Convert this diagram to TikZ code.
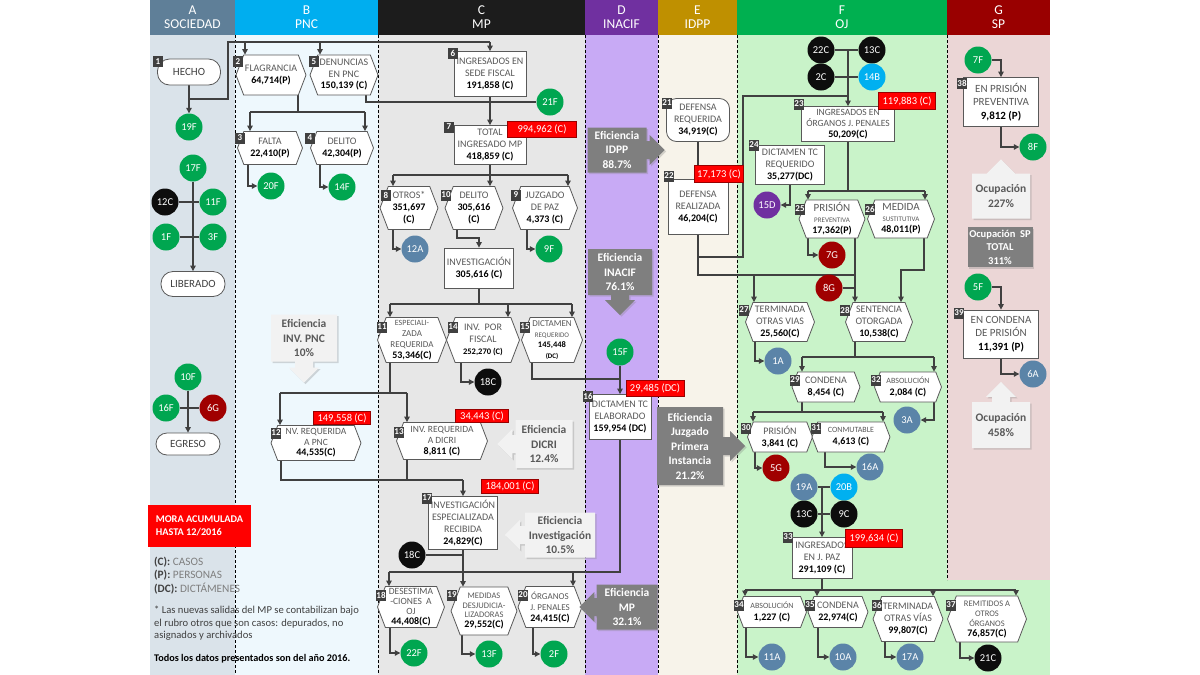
\documentclass[tikz,border=0pt]{standalone}
\usepackage{fontspec}
\setmainfont{Carlito}
\usetikzlibrary{shapes.symbols,shapes.arrows,shadows,arrows.meta}
\definecolor{hdrA}{HTML}{5F7F98}\definecolor{bodA}{HTML}{DAE3EA}
\definecolor{hdrB}{HTML}{00AEEF}\definecolor{bodB}{HTML}{EEF8FD}
\definecolor{hdrC}{HTML}{1C1C1C}\definecolor{bodC}{HTML}{E7E7E7}
\definecolor{hdrD}{HTML}{7030A0}\definecolor{bodD}{HTML}{C8AAF5}
\definecolor{hdrE}{HTML}{BF9000}\definecolor{bodE}{HTML}{F7F3EA}
\definecolor{hdrF}{HTML}{00B050}\definecolor{bodF}{HTML}{C9F3C9}
\definecolor{hdrG}{HTML}{990000}\definecolor{bodG}{HTML}{EBD6D6}
\definecolor{lab}{HTML}{595959}\definecolor{dk}{HTML}{404040}
\definecolor{bord}{HTML}{595959}\definecolor{lnc}{HTML}{404040}
\definecolor{tagc}{HTML}{404040}\definecolor{effl}{HTML}{F2F2F2}
\definecolor{efft}{HTML}{595959}\definecolor{effd}{HTML}{7F7F7F}
\definecolor{cgreen}{HTML}{00A650}\definecolor{cblack}{HTML}{0D0D0D}
\definecolor{cred}{HTML}{A00000}\definecolor{cslate}{HTML}{5B84A8}
\definecolor{ccyan}{HTML}{00B0F0}\definecolor{cpurple}{HTML}{7030A0}
\definecolor{legg}{HTML}{7F7F7F}
\newcommand\numv[1]{{\color{black}\bfseries #1}}
\newcommand\fsz[2]{\fontsize{#1}{#2}\selectfont}
\pgfdeclarelayer{bgfill}\pgfdeclarelayer{bglines}
\pgfsetlayers{bgfill,bglines,main}
\tikzset{
 ln/.style={draw=lnc, line width=1.1pt},
 arr/.style={ln, -{Triangle[length=5.5pt,width=5.5pt]}},
 dsh/.style={draw=black, line width=0.6pt, dash pattern=on 3pt off 2pt},
 box/.style={draw=bord, fill=white, line width=0.8pt, inner sep=1pt, align=center, text=lab, font=\fsz{10}{12}},
 rbox/.style={box, rounded corners=10pt},
 hexn/.style={box, signal, signal to=east and west, signal pointer angle=138},
 circ/.style={circle, minimum size=27pt, inner sep=0pt, text=white, font=\fsz{10.5}{12}},
 cg/.style={circ, fill=cgreen}, cb/.style={circ, fill=cblack}, cr/.style={circ, fill=cred},
 cs/.style={circ, fill=cslate}, cc/.style={circ, fill=ccyan}, cp/.style={circ, fill=cpurple},
 tagb/.style={fill=tagc, text=white, font=\bfseries\fsz{9}{10}, inner sep=0.5pt, minimum height=11pt, minimum width=10pt},
 redl/.style={fill=red, draw=red!60!black, line width=0.4pt, text=white, font=\fsz{10.5}{12}, inner sep=1pt},
 effL/.style={arrow box, fill=effl, text=efft, font=\bfseries\fsz{11.5}{14.5}, align=center, inner sep=1pt,
   drop shadow={opacity=0.3,shadow xshift=1.5pt,shadow yshift=-1.5pt},
   arrow box shaft width=18pt, arrow box head extend=6pt},
 effD/.style={effL, fill=effd, text=white},
 hdr/.style={text=white, font=\fsz{13.5}{13.5}, align=center},
}
\begin{document}
\begin{tikzpicture}[x=1pt,y=-1pt]
\useasboundingbox (0,0) rectangle (1200,675);
\begin{pgfonlayer}{bgfill}
\fill[white] (0,0) rectangle (1200,675);
\fill[bodA] (150,35) rectangle (235,675);
\fill[bodB] (235,35) rectangle (378,675);
\fill[bodC] (378,35) rectangle (585,675);
\fill[bodD] (585,35) rectangle (658,675);
\fill[bodE] (658,35) rectangle (737,675);
\fill[bodF] (737,35) rectangle (1050,675);
\fill[bodG] (947,35) rectangle (1050,580);
\fill[hdrA] (150,0) rectangle (235,35);
\fill[hdrB] (235,0) rectangle (378,35);
\fill[hdrC] (378,0) rectangle (585,35);
\fill[hdrD] (585,0) rectangle (658,35);
\fill[hdrE] (658,0) rectangle (737,35);
\fill[hdrF] (737,0) rectangle (947,35);
\fill[hdrG] (947,0) rectangle (1050,35);
\draw[dsh] (235,35) -- (235,675);
\draw[dsh] (378,35) -- (378,675);
\draw[dsh] (585,35) -- (585,675);
\draw[dsh] (658,35) -- (658,675);
\draw[dsh] (737,35) -- (737,675);
\draw[dsh] (947,35) -- (947,580);
\end{pgfonlayer}

% headers
\node[hdr] (hA) at (192.5,17) {A\\SOCIEDAD};
\node[hdr] (hB) at (306.5,17) {B\\PNC};
\node[hdr] (hC) at (481.5,17) {C\\MP};
\node[hdr] (hD) at (621.5,17) {D\\INACIF};
\node[hdr] (hE) at (697.5,17) {E\\IDPP};
\node[hdr] (hF) at (842,17) {F\\OJ};
\node[hdr] (hG) at (998.5,17) {G\\SP};

% column A
\node[rbox, rounded corners=12pt, minimum width=63pt, minimum height=26pt, text=dk, font=\fsz{11}{12}] (n1) at (189,72) {HECHO};
\node[cg] (a19F) at (189,127) {19F};
\node[cg] (a17F) at (193,168) {17F};
\node[cb] (a12C) at (165,202) {12C};
\node[cg] (a11F) at (213,202) {11F};
\node[cg] (a1F) at (166,237) {1F};
\node[cg] (a3F) at (213,237) {3F};
\node[rbox, rounded corners=12pt, minimum width=64pt, minimum height=25pt, text=dk, font=\fsz{11}{12}] (lib) at (193,284) {LIBERADO};
\node[cg] (a10F) at (188,377) {10F};
\node[cg] (a16F) at (166,408) {16F};
\node[cr] (a6G) at (213,408) {6G};
\node[rbox, rounded corners=11pt, minimum width=64pt, minimum height=22pt, text=dk, font=\fsz{11}{12}] (egr) at (188,444) {EGRESO};
\node[fill=red, text=white, minimum width=103pt, minimum height=42pt, align=left, inner sep=2pt, font=\bfseries\fsz{10.3}{12.5}] (mora) at (199.5,526) {MORA ACUMULADA\\HASTA 12/2016};
\node[anchor=north west, align=left, inner sep=0pt, text=legg, font=\fsz{11.3}{13.3}] (leg) at (154,557)
 {\textcolor{dk}{\bfseries (C):} CASOS\\\textcolor{dk}{\bfseries (P):} PERSONAS\\\textcolor{dk}{\bfseries (DC):} DICTÁMENES};
\node[anchor=north west, align=left, inner sep=0pt, text=dk, font=\fsz{10.6}{12.5}] (note) at (154,606)
 {* Las nuevas salidas del MP se contabilizan bajo\\el rubro otros que son casos: depurados, no\\asignados y archivados};
\node[anchor=north west, inner sep=0pt, text=black, font=\bfseries\fsz{10.2}{11}] (todos) at (154,654) {Todos los datos presentados son del año 2016.};

% column B
\node[hexn, minimum width=70pt, minimum height=40pt] (n2) at (271,75) {FLAGRANCIA\\\numv{64,714(P)}};
\node[hexn, minimum width=68pt, minimum height=40pt, font=\fsz{10}{11.5}] (n5) at (344,75) {DENUNCIAS\\EN PNC\\\numv{150,139 (C)}};
\node[hexn, minimum width=65pt, minimum height=33pt] (n3) at (270,148) {FALTA\\\numv{22,410(P)}};
\node[hexn, minimum width=63pt, minimum height=33pt] (n4) at (342,148) {DELITO\\\numv{42,304(P)}};
\node[cg] (a20F) at (271,186) {20F};
\node[cg] (a14F) at (342,187) {14F};
\node[effL, minimum width=66pt, minimum height=47pt, arrow box arrows={south:21pt}] (eP) at (304,338) {Eficiencia\\INV. PNC\\10\%};
\node[hexn, minimum width=90pt, minimum height=35pt, font=\fsz{9.5}{10.5}] (n12) at (316,443) {NV. REQUERIDA\\A PNC\\\numv{\fsz{10}{11}44,535(C)}};
\node[redl, minimum width=57pt, minimum height=13pt] (r12) at (342,418) {149,558 (C)};

% column C
\node[box, minimum width=72pt, minimum height=45pt, font=\fsz{10}{12.3}] (n6) at (490,74) {INGRESADOS EN\\SEDE FISCAL\\\numv{191,858 (C)}};
\node[cg] (a21F) at (550,102) {21F};
\node[box, minimum width=72pt, minimum height=39pt] (n7) at (490,145) {TOTAL\\INGRESADO MP\\\numv{418,859 (C)}};
\node[redl, minimum width=69pt, minimum height=16pt] (r7) at (542,129) {994,962 (C)};
\node[hexn, minimum width=58pt, minimum height=43pt] (n8) at (409,208) {OTROS*\\\numv{351,697}\\\numv{(C)}};
\node[hexn, minimum width=58pt, minimum height=43pt] (n10) at (474,208) {DELITO\\\numv{305,616}\\\numv{(C)}};
\node[hexn, minimum width=65pt, minimum height=43pt] (n9) at (545,208) {JUZGADO\\DE PAZ\\\numv{4,373 (C)}};
\node[cs] (a12A) at (415,249) {12A};
\node[cg] (a9F) at (549,249) {9F};
\node[box, minimum width=69pt, minimum height=40pt] (inv) at (479,268) {INVESTIGACIÓN\\\numv{305,616 (C)}};
\node[hexn, minimum width=69pt, minimum height=45pt, font=\fsz{9}{11}] (n11) at (412,340) {{\fsz{8}{9}ESPECIALI-}\\ZADA\\REQUERIDA\\\numv{\fsz{10}{11}53,346(C)}};
\node[hexn, minimum width=73pt, minimum height=45pt] (n14) at (483,340) {INV.\ \ POR\\FISCAL\\\numv{\fsz{8.5}{10}252,270 (C)}};
\node[hexn, minimum width=61pt, minimum height=45pt, font=\fsz{9}{10.5}] (n15) at (552,340) {DICTAMEN\\{\fsz{7}{8}REQUERIDO}\\\numv{\fsz{8.5}{10}145,448}\\\numv{\fsz{7}{8}(DC)}};
\node[cb] (a18Ca) at (488,382) {18C};
\node[hexn, minimum width=91pt, minimum height=37pt, font=\fsz{9.5}{11}] (n13) at (442,441) {INV. REQUERIDA\\A DICRI\\\numv{\fsz{10}{11}8,811 (C)}};
\node[redl, minimum width=53pt, minimum height=13pt] (r13) at (482,416) {34,443 (C)};
\node[effL, minimum width=57pt, minimum height=48pt, arrow box arrows={west:18pt}] (eDICRI) at (544,444) {Eficiencia\\DICRI\\12.4\%};
\node[box, minimum width=69pt, minimum height=53pt] (n17) at (463,523) {INVESTIGACIÓN\\ESPECIALIZADA\\RECIBIDA\\\numv{24,829(C)}};
\node[redl, minimum width=57pt, minimum height=14pt] (r17) at (510,486) {184,001 (C)};
\node[effL, minimum width=70pt, minimum height=45pt, arrow box arrows={west:20pt}] (eInv) at (560,535) {Eficiencia\\Investigación\\10.5\%};
\node[cb] (a18Cb) at (412,555) {18C};
\node[hexn, minimum width=67pt, minimum height=41pt, font=\fsz{9.5}{10}] (n18) at (411,607) {DESESTIMA\\-CIONES\ \ A\\OJ\\\numv{\fsz{10}{11}44,408(C)}};
\node[hexn, minimum width=66pt, minimum height=48pt, font=\fsz{8.5}{9.5}] (n19) at (484,611) {MEDIDAS\\DESJUDICIA-\\LIZADORAS\\\numv{\fsz{10}{11}29,552(C)}};
\node[hexn, minimum width=64pt, minimum height=41pt, font=\fsz{9}{11}] (n20) at (550,607) {ÓRGANOS\\J. PENALES\\\numv{\fsz{10}{11}24,415(C)}};
\node[cg] (a22F) at (414,653) {22F};
\node[cg] (a13F) at (489,654) {13F};
\node[cg] (a2F) at (554,654) {2F};

% column D
\node[effD, minimum width=59pt, minimum height=45pt, arrow box arrows={east:18pt}] (eIDPP) at (617,150) {Eficiencia\\IDPP\\88.7\%};
\node[effD, minimum width=64pt, minimum height=46pt, arrow box arrows={south:20pt}] (eINACIF) at (620,272) {Eficiencia\\INACIF\\76.1\%};
\node[cg] (a15F) at (620,352) {15F};
\node[box, minimum width=62pt, minimum height=45pt] (n16) at (620,417) {DICTAMEN TC\\ELABORADO\\\numv{159,954 (DC)}};
\node[redl, minimum width=58pt, minimum height=16pt] (r16) at (655,388) {29,485 (DC)};
\node[effD, minimum width=61pt, minimum height=45pt, arrow box arrows={west:17pt}] (eMP) at (627,607) {Eficiencia\\MP\\32.1\%};

% column E
\node[rbox, minimum width=63pt, minimum height=43pt] (n21) at (698,120) {DEFENSA\\REQUERIDA\\\numv{34,919(C)}};
\node[box, minimum width=60pt, minimum height=55pt] (n22) at (698,207) {DEFENSA\\REALIZADA\\\numv{46,204(C)}};
\node[redl, minimum width=49pt, minimum height=17pt] (r22) at (719,174) {17,173 (C)};
\node[effD, minimum width=66pt, minimum height=78pt, arrow box arrows={east:22pt}] (eJPI) at (690,446) {Eficiencia\\Juzgado\\Primera\\Instancia\\21.2\%};

% column F
\node[cb] (a22C) at (821,50) {22C};
\node[cb] (a13Cb) at (872,50) {13C};
\node[cb] (a2C) at (821,77) {2C};
\node[cc] (a14B) at (872,77) {14B};
\node[box, minimum width=93pt, minimum height=35pt, font=\fsz{9.5}{11}] (n23) at (848,124) {INGRESADOS EN\\ÓRGANOS J. PENALES\\\numv{\fsz{10}{11}50,209(C)}};
\node[redl, minimum width=57pt, minimum height=17pt] (r23) at (907,101) {119,883 (C)};
\node[box, minimum width=69pt, minimum height=39pt] (n24) at (790,165) {DICTAMEN TC\\REQUERIDO\\\numv{35,277(DC)}};
\node[cp] (a15D) at (767,205) {15D};
\node[hexn, minimum width=66pt, minimum height=38pt, font=\fsz{10}{11}] (n25) at (832,219) {{\fsz{11}{12}PRISIÓN}\\{\fsz{7}{8}PREVENTIVA}\\\numv{17,362(P)}};
\node[hexn, minimum width=67pt, minimum height=38pt, font=\fsz{10}{11}] (n26) at (901,219) {{\fsz{11}{12}MEDIDA}\\{\fsz{7}{8}SUSTITUTIVA}\\\numv{48,011(P)}};
\node[cr] (a7G) at (832,255) {7G};
\node[cr] (a8G) at (829,288) {8G};
\node[hexn, minimum width=69pt, minimum height=39pt] (n27) at (780,322) {TERMINADA\\OTRAS VIAS\\\numv{25,560(C)}};
\node[hexn, minimum width=67pt, minimum height=39pt] (n28) at (879,322) {SENTENCIA\\OTORGADA\\\numv{10,538(C)}};
\node[cs] (a1A) at (778,361) {1A};
\node[hexn, minimum width=68pt, minimum height=30pt] (n29) at (826,387) {CONDENA\\\numv{8,454 (C)}};
\node[hexn, minimum width=67pt, minimum height=30pt] (n32) at (908,387) {{\fsz{8}{9}ABSOLUCIÓN}\\\numv{2,084 (C)}};
\node[cs] (a3A) at (907,420) {3A};
\node[hexn, minimum width=65pt, minimum height=30pt] (n30) at (780,437) {PRISIÓN\\\numv{3,841 (C)}};
\node[hexn, minimum width=78pt, minimum height=30pt] (n31) at (851,437) {{\fsz{8}{9}CONMUTABLE}\\\numv{4,613 (C)}};
\node[cr] (a5G) at (776,468) {5G};
\node[cs] (a16A) at (870,467) {16A};
\node[cs] (a19A) at (804,487) {19A};
\node[cc] (a20B) at (844,487) {20B};
\node[cb] (a13Cc) at (804,514) {13C};
\node[cb] (a9C) at (844,514) {9C};
\node[box, minimum width=60pt, minimum height=41pt] (n33) at (822,558) {INGRESADOS\\EN J. PAZ\\\numv{291,109 (C)}};
\node[redl, minimum width=57pt, minimum height=18pt] (r33) at (874,538) {199,634 (C)};
\node[hexn, minimum width=69pt, minimum height=31pt] (n34) at (772,612) {{\fsz{8}{9}ABSOLUCIÓN}\\\numv{1,227 (C)}};
\node[hexn, minimum width=60pt, minimum height=31pt] (n35) at (838,612) {CONDENA\\\numv{22,974(C)}};
\node[hexn, minimum width=70pt, minimum height=45pt] (n36) at (908,619) {TERMINADA\\OTRAS VÍAS\\\numv{99,807(C)}};
\node[hexn, minimum width=79pt, minimum height=46pt, font=\fsz{8.5}{10}] (n37) at (987,619) {REMITIDOS A\\OTROS\\ÓRGANOS\\\numv{\fsz{10}{11}76,857(C)}};
\node[cs] (a11A) at (772,657) {11A};
\node[cs] (a10A) at (843,657) {10A};
\node[cs] (a17A) at (910,657) {17A};
\node[cb] (a21C) at (988,658) {21C};

% column G
\node[cg] (a7F) at (978,60) {7F};
\node[box, minimum width=75pt, minimum height=49pt, font=\fsz{11}{13.3}] (n38) at (1001,102) {EN PRISIÓN\\PREVENTIVA\\\numv{9,812 (P)}};
\node[cg] (a8F) at (1033,147) {8F};
\node[effL, minimum width=58pt, minimum height=45pt, arrow box arrows={north:14pt}] (o227) at (1001,196) {Ocupación\\227\%};
\node[fill=effd, text=white, minimum width=65pt, minimum height=40pt, align=center, inner sep=1pt, font=\bfseries\fsz{10.5}{13.5}, drop shadow={opacity=0.3,shadow xshift=1.5pt,shadow yshift=-1.5pt}] (oSP) at (1000,247) {Ocupación\ \ SP\\TOTAL\\311\%};
\node[cg] (a5F) at (978,287) {5F};
\node[box, minimum width=75pt, minimum height=48pt, font=\fsz{11}{13.3}] (n39) at (1001,334) {EN CONDENA\\DE PRISIÓN\\\numv{11,391 (P)}};
\node[cs] (a6A) at (1033,374) {6A};
\node[effL, minimum width=58pt, minimum height=46pt, arrow box arrows={north:20pt}] (o458) at (1001,425) {Ocupación\\458\%};

% tags
\node[tagb] (t1) at (158,61.5) {1};
\node[tagb] (t2) at (238,61.5) {2};
\node[tagb] (t5) at (314,61.5) {5};
\node[tagb] (t3) at (240,138) {3};
\node[tagb] (t4) at (310,138) {4};
\node[tagb] (t6) at (453,53) {6};
\node[tagb] (t7) at (449,127) {7};
\node[tagb] (t8) at (386,195) {8};
\node[tagb] (t10) at (446,195) {10};
\node[tagb] (t9) at (516,195) {9};
\node[tagb] (t11) at (382,327) {11};
\node[tagb] (t14) at (453,327) {14};
\node[tagb] (t15) at (525,327) {15};
\node[tagb] (t12) at (276,433) {12};
\node[tagb] (t13) at (399,432) {13};
\node[tagb] (t16) at (588,396) {16};
\node[tagb] (t17) at (427,498) {17};
\node[tagb] (t18) at (381,595) {18};
\node[tagb] (t19) at (452,595) {19};
\node[tagb] (t20) at (523,595) {20};
\node[tagb] (t21) at (667,103) {21};
\node[tagb] (t22) at (669,176) {22};
\node[tagb] (t23) at (799,104) {23};
\node[tagb] (t24) at (754,145) {24};
\node[tagb] (t25) at (800,209) {25};
\node[tagb] (t26) at (870,209) {26};
\node[tagb] (t27) at (744,310) {27};
\node[tagb] (t28) at (845,310) {28};
\node[tagb] (t29) at (795,380) {29};
\node[tagb] (t32) at (876,380) {32};
\node[tagb] (t30) at (746,428) {30};
\node[tagb] (t31) at (816,428) {31};
\node[tagb] (t33) at (788,537) {33};
\node[tagb] (t34) at (739,605) {34};
\node[tagb] (t35) at (810,605) {35};
\node[tagb] (t36) at (877,605) {36};
\node[tagb] (t37) at (951,605) {37};
\node[tagb] (t38) at (962,83) {38};
\node[tagb] (t39) at (959,313) {39};

% connectors
\begin{pgfonlayer}{bglines}
% A
\draw[arr] (n1) -- (a19F);
\draw[ln] (a12C) -- (a11F);
\draw[ln] (a1F) -- (a3F);
\draw[arr] (a17F) -- (lib);
\draw[ln] (a16F) -- (a6G);
\draw[arr] (a10F) -- (egr);
\coordinate (j1) at (189,99);
\coordinate (j1b) at (228,42);
\coordinate (j6) at (490,42);
\coordinate (j2) at (245,42);
\coordinate (j5) at (320,42);
\draw[ln] (j1) -| (j1b) -- (j6);
\draw[arr] (j6) -- (n6.north);
\draw[arr] (j2) -- (j2 |- n2.north);
\draw[arr] (j5) -- (j5 |- n5.north);
% B
\coordinate (b2t) at (298,112);
\coordinate (b3) at (250,112);
\coordinate (b4) at (365,112);
\draw[ln] (b2t |- n2.south) -- (b2t);
\draw[ln] (b3) -- (b4);
\draw[arr] (b3) -- (b3 |- n3.north);
\draw[arr] (b4) -- (b4 |- n4.north);
\coordinate (b5) at (366,102);
\draw[ln] (b5 |- n5.south) -- (b5) -- (a21F);
\draw[arr] ([xshift=-22pt]n3.south) |- (a20F);
\draw[arr] ([xshift=-22pt]n4.south) |- (a14F);
% C
\draw[arr] (n6) -- (n7);
\coordinate (b7) at (490,175);
\coordinate (b7l) at (393,175);
\coordinate (b7r) at (568,175);
\draw[ln] (n7.south) -- (b7);
\draw[ln] (b7l) -- (b7r);
\draw[arr] (b7l) -- (b7l |- n8.north);
\draw[arr] (b7) -- (b7 |- n10.north);
\draw[arr] (b7r) -- (b7r |- n9.north);
\draw[arr] ([xshift=-16pt]n8.south) |- (a12A);
\coordinate (b10) at (457,238);
\draw[arr] (b10 |- n10.south) -- (b10) -| (inv.north);
\draw[arr] ([xshift=-18pt]n9.south) |- (a9F);
\coordinate (bI) at (479,304);
\coordinate (bIl) at (390,304);
\coordinate (bIm) at (508,304);
\coordinate (bIr) at (572,304);
\draw[ln] (inv.south) -- (bI);
\draw[ln] (bIl) -- (bIr);
\draw[arr] (bIl) -- (bIl |- n11.north);
\draw[arr] (bIm) -- (bIm |- n14.north);
\draw[arr] (bIr) -- (bIr |- n15.north);
\draw[arr] ([xshift=-22pt]n14.south) |- (a18Ca);
\coordinate (b15) at (532,379);
\coordinate (b16) at (620,379);
\draw[ln] (b15 |- n15.south) -- (b15) -- (b16);
\draw[ln] (a15F) -- (b16);
\draw[arr] (b16) -- (n16.north);
\coordinate (b11) at (390,393);
\coordinate (b12) at (280,393);
\coordinate (b13) at (407,393);
\draw[ln] (b11 |- n11.south) -- (b11);
\draw[ln] (b12) -- (b13);
\draw[arr] (b12) -- (b12 |- n12.north);
\draw[arr] (b13) -- (b13 |- n13.north);
\coordinate (b12s) at (281,480);
\coordinate (b13s) at (407,480);
\coordinate (b17) at (463,480);
\draw[ln] (b12s |- n12.south) -- (b12s) -- (b17);
\draw[ln] (b13s |- n13.south) -- (b13s);
\draw[arr] (b17) -- (n17.north);
\coordinate (c17) at (463,572);
\coordinate (c18) at (389,572);
\coordinate (c20) at (573,572);
\coordinate (c16) at (620,572);
\draw[ln] (n17.south) -- (c17);
\draw[ln] (a18Cb) -- (a18Cb -| n17.south);
\draw[ln] (n16.south) -- (c16) -- (c18);
\draw[arr] (c18) -- (c18 |- n18.north);
\draw[arr] (c17) -- (c17 |- n19.north);
\draw[arr] (c20) -- (c20 |- n20.north);
\draw[arr] ([xshift=-21pt]n18.south) |- (a22F);
\draw[arr] ([xshift=-22pt]n19.south) |- (a13F);
\draw[arr] ([xshift=-17pt]n20.south) |- (a2F);
% E
\draw[ln] (n21) -- (n22);
\coordinate (e1) at (698,275);
\coordinate (e2) at (698,257);
\coordinate (e3) at (743,96);
\coordinate (e4) at (848,96);
\coordinate (f28a) at (855,275);
\draw[ln] (n22.south) -- (e1) -- (f28a);
\draw[ln] (e2) -| (e3) -- (e4);
% F
\draw[ln] (a22C) -- (a13Cb);
\draw[ln] (a2C) -- (a14B);
\coordinate (f23) at (848,50);
\draw[arr] (f23) -- (n23.north);
\coordinate (f23s) at (848,191);
\coordinate (f25) at (808,191);
\coordinate (f26) at (925,191);
\draw[ln] (n23.south) -- (f23s);
\draw[ln] (f25) -- (f26);
\draw[arr] (f25) -- (f25 |- n25.north);
\draw[arr] (f26) -- (f26 |- n26.north);
\draw[arr] (n24.south) |- (a15D);
\draw[arr] ([xshift=-24pt]n25.south) |- (a7G);
\draw[arr] (f28a |- n25.south) -- (f28a |- n28.north);
\draw[ln] (a8G) -- (a8G -| f28a);
\coordinate (f27) at (754,275);
\draw[arr] (f27) -- (f27 |- n27.north);
\coordinate (f26s) at (924,270);
\coordinate (f28b) at (901,270);
\draw[arr] (f26s |- n26.south) -- (f26s) -- (f28b) -- (f28b |- n28.north);
\draw[arr] ([xshift=-25pt]n27.south) |- (a1A);
\coordinate (g28) at (855,357);
\coordinate (g29) at (802,357);
\coordinate (g32) at (934,357);
\draw[ln] (g28 |- n28.south) -- (g28);
\draw[ln] (g29) -- (g32);
\draw[arr] (g29) -- (g29 |- n29.north);
\draw[arr] (g32) -- (g32 |- n32.north);
\draw[arr] (g32 |- n32.south) |- (a3A);
\coordinate (g29s) at (802,412);
\coordinate (g30) at (753,412);
\coordinate (g31) at (883,412);
\draw[ln] (g29s |- n29.south) -- (g29s);
\draw[ln] (g30) -- (g31);
\draw[arr] (g30) -- (g30 |- n30.north);
\draw[arr] (g31) -- (g31 |- n31.north);
\draw[arr] ([xshift=-25pt]n30.south) |- (a5G);
\draw[arr] ([xshift=-26pt]n31.south) |- (a16A);
\draw[ln] (a19A) -- (a20B);
\draw[ln] (a13Cc) -- (a9C);
\coordinate (h33) at (822,487);
\draw[arr] (h33) -- (n33.north);
\coordinate (h33s) at (822,590);
\coordinate (h34) at (745,590);
\coordinate (h35) at (817,590);
\coordinate (h36) at (933,590);
\coordinate (h37) at (1016,590);
\draw[ln] (n33.south) -- (h33s);
\draw[ln] (h34) -- (h37);
\draw[arr] (h34) -- (h34 |- n34.north);
\draw[arr] (h35) -- (h35 |- n35.north);
\draw[arr] (h36) -- (h36 |- n36.north);
\draw[arr] (h37) -- (h37 |- n37.north);
\draw[arr] ([xshift=-26pt]n34.south) |- (a11A);
\draw[arr] ([xshift=-20pt]n35.south) |- (a10A);
\draw[arr] ([xshift=-23pt]n36.south) |- (a17A);
\draw[arr] ([xshift=-27pt]n37.south) |- (a21C);
% G
\draw[arr] (a7F) -| (n38.north);
\draw[arr] (n38.south) |- (a8F);
\draw[arr] (a5F) -| (n39.north);
\draw[arr] (n39.south) |- (a6A);
\end{pgfonlayer}
\end{tikzpicture}
\end{document}
